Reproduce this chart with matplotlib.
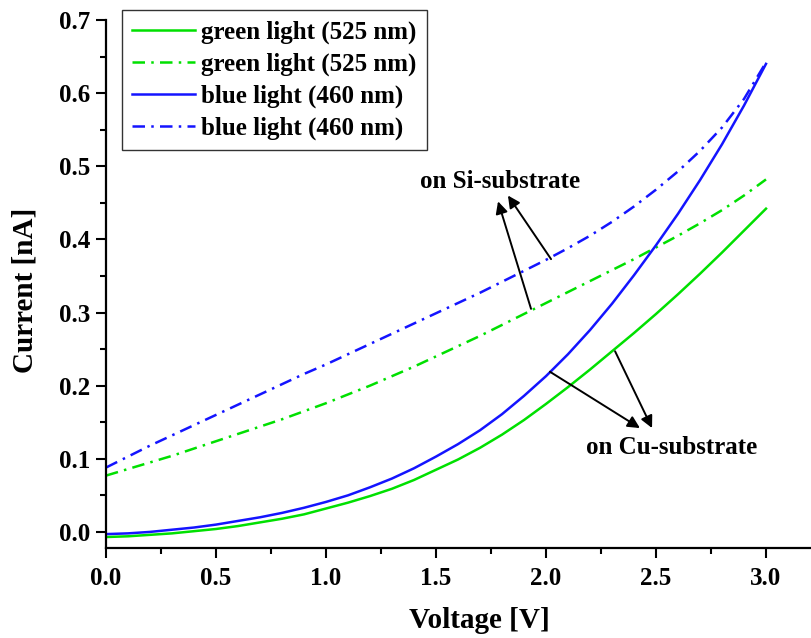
import numpy as np
import matplotlib.pyplot as plt
from matplotlib.ticker import MultipleLocator

plt.rcParams["font.family"] = ["Liberation Serif", "DejaVu Serif"]
plt.rcParams["font.weight"] = "bold"

voltage = np.round(np.arange(0, 3.01, 0.1), 1)

# Cu-substrate (solid lines)
green_cu = [-0.007, -0.006, -0.004, -0.002, 0.001, 0.004, 0.008, 0.013, 0.018, 0.024,
            0.032, 0.040, 0.049, 0.059, 0.071, 0.085, 0.099, 0.115, 0.133, 0.153,
            0.175, 0.198, 0.222, 0.247, 0.272, 0.298, 0.325, 0.353, 0.382, 0.412,
            0.442]
blue_cu = [-0.003, -0.002, 0.000, 0.003, 0.006, 0.010, 0.015, 0.020, 0.026, 0.033,
           0.041, 0.050, 0.061, 0.073, 0.087, 0.103, 0.120, 0.139, 0.161, 0.186,
           0.213, 0.243, 0.276, 0.312, 0.351, 0.392, 0.435, 0.481, 0.530, 0.583,
           0.640]

# Si-substrate (dash-dot lines)
green_si = [0.077, 0.086, 0.095, 0.104, 0.114, 0.124, 0.134, 0.144, 0.154, 0.165,
            0.176, 0.188, 0.200, 0.213, 0.226, 0.240, 0.254, 0.268, 0.283, 0.298,
            0.313, 0.328, 0.343, 0.358, 0.373, 0.389, 0.405, 0.422, 0.440, 0.460,
            0.482]
blue_si = [0.088, 0.103, 0.118, 0.132, 0.146, 0.160, 0.174, 0.188, 0.202, 0.216,
           0.229, 0.243, 0.257, 0.271, 0.285, 0.299, 0.313, 0.327, 0.342, 0.357,
           0.372, 0.388, 0.405, 0.424, 0.445, 0.468, 0.493, 0.521, 0.553, 0.592,
           0.642]

labels = ["green light (525 nm)", "green light (525 nm)",
          "blue light (460 nm)", "blue light (460 nm)"]

green = "#00e000"
blue = "#1414ff"
dashdot = (0, (5, 2.5, 1, 2.5))
lw = 1.8

fig = plt.figure(figsize=(8.12, 6.38), dpi=100)
ax = fig.add_axes([106 / 812, 90 / 638, 704 / 812, 528 / 638])

ax.plot(voltage, green_cu, color=green, lw=lw, label=labels[0])
ax.plot(voltage, green_si, color=green, lw=lw, ls=dashdot, label=labels[1])
ax.plot(voltage, blue_cu, color=blue, lw=lw, label=labels[2])
ax.plot(voltage, blue_si, color=blue, lw=lw, ls=dashdot, label=labels[3])

ax.set_xlim(0, 3.2)
ax.set_ylim(-0.022, 0.7)
ax.xaxis.set_major_locator(MultipleLocator(0.5))
ax.xaxis.set_minor_locator(MultipleLocator(0.25))
ax.yaxis.set_major_locator(MultipleLocator(0.1))
ax.yaxis.set_minor_locator(MultipleLocator(0.05))
ax.xaxis.set_major_formatter("{x:.1f}")
ax.yaxis.set_major_formatter("{x:.1f}")

for side in ("top", "right"):
    ax.spines[side].set_visible(False)
for side in ("left", "bottom"):
    ax.spines[side].set_linewidth(1.6)

ax.tick_params(which="major", direction="out", length=7.5, width=1.5,
               labelsize=18)
ax.tick_params(axis="x", which="major", pad=6)
ax.tick_params(axis="y", which="major", pad=4)
ax.tick_params(which="minor", direction="out", length=4, width=1.5)

ax.set_xlabel("Voltage [V]", fontsize=21, fontweight="bold")
ax.set_ylabel("Current [nA]", fontsize=21, fontweight="bold")
ax.xaxis.set_label_coords(0.531, -0.112)
ax.yaxis.set_label_coords(-0.096, 0.487)

leg = ax.legend(loc="upper left", bbox_to_anchor=(122 / 812, 1 - 10 / 638),
                bbox_transform=fig.transFigure, borderaxespad=0,
                fontsize=18, handlelength=2.5, handletextpad=0.25,
                labelspacing=0.34, borderpad=0.42, fancybox=False,
                framealpha=1)
leg.get_frame().set_edgecolor("#333333")
leg.get_frame().set_linewidth(1.0)

arrow = dict(arrowstyle="-|>", mutation_scale=18, lw=1.4, color="black",
             shrinkA=0, shrinkB=0)

# pointers to the Si-substrate curves
ax.annotate("", xy=(1.782, 0.452), xytext=(1.932, 0.305), arrowprops=arrow)
ax.annotate("", xy=(1.827, 0.460), xytext=(2.023, 0.373), arrowprops=arrow)
ax.text(1.79, 0.479, "on Si-substrate", fontsize=18, fontweight="bold",
        ha="center", va="center")

# pointers to the Cu-substrate curves
ax.annotate("", xy=(2.427, 0.142), xytext=(2.018, 0.219), arrowprops=arrow)
ax.annotate("", xy=(2.482, 0.142), xytext=(2.314, 0.247), arrowprops=arrow)
ax.text(2.573, 0.116, "on Cu-substrate", fontsize=18, fontweight="bold",
        ha="center", va="center")

fig.savefig("out.png", dpi=100)
